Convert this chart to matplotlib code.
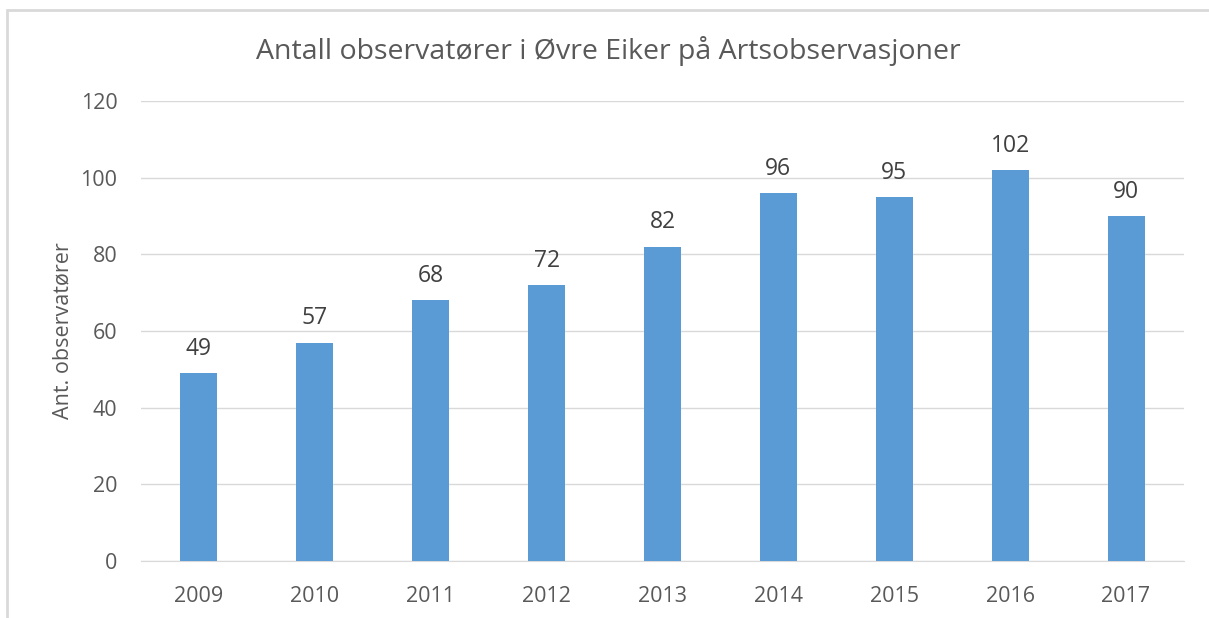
import matplotlib.pyplot as plt
from matplotlib.patches import Rectangle

years = ['2009', '2010', '2011', '2012', '2013', '2014', '2015', '2016', '2017']
observers = [49, 57, 68, 72, 82, 96, 95, 102, 90]
yticks = [0, 20, 40, 60, 80, 100, 120]

plt.rcParams['font.family'] = ['Open Sans', 'DejaVu Sans']
text_color = '#595959'

fig = plt.figure(figsize=(12.09, 6.18), dpi=100)
ax = fig.add_axes([141 / 1209, 57 / 618, 1043 / 1209, 460 / 618])

x = range(len(years))
bars = ax.bar(x, observers, width=0.32, color='#5B9BD5', zorder=3)

# value labels above each bar
for xi, v in zip(x, observers):
    ax.text(xi, v + 3.2, str(v), ha='center', va='bottom',
            fontsize=16.5, color='#404040')

ax.set_xlim(-0.5, len(years) - 0.5)
ax.set_ylim(0, 120)
ax.set_yticks(yticks)
ax.set_xticks(list(x))
ax.set_xticklabels(years)
ax.grid(axis='y', color='#D9D9D9', linewidth=1, zorder=0)
for s in ['top', 'right', 'left']:
    ax.spines[s].set_visible(False)
ax.spines['bottom'].set_color('#D9D9D9')
ax.tick_params(length=0, labelsize=15.5, colors=text_color)
ax.tick_params(axis='x', pad=18)
ax.tick_params(axis='y', pad=17)

ax.set_ylabel('Ant. observatører', fontsize=15.5, color=text_color, labelpad=5)
fig.text(0.503, 0.917, 'Antall observatører i Øvre Eiker på Artsobservasjoner',
         ha='center', va='center', fontsize=20.5, color=text_color)

# thin frame around the chart area (cropped at right and bottom)
fig.patches.append(Rectangle((7 / 1209, -0.1), 1.1, (608 / 618) + 0.1,
                             transform=fig.transFigure, fill=False,
                             edgecolor='#D9D9D9', linewidth=2))

fig.savefig('out.png', dpi=100)
